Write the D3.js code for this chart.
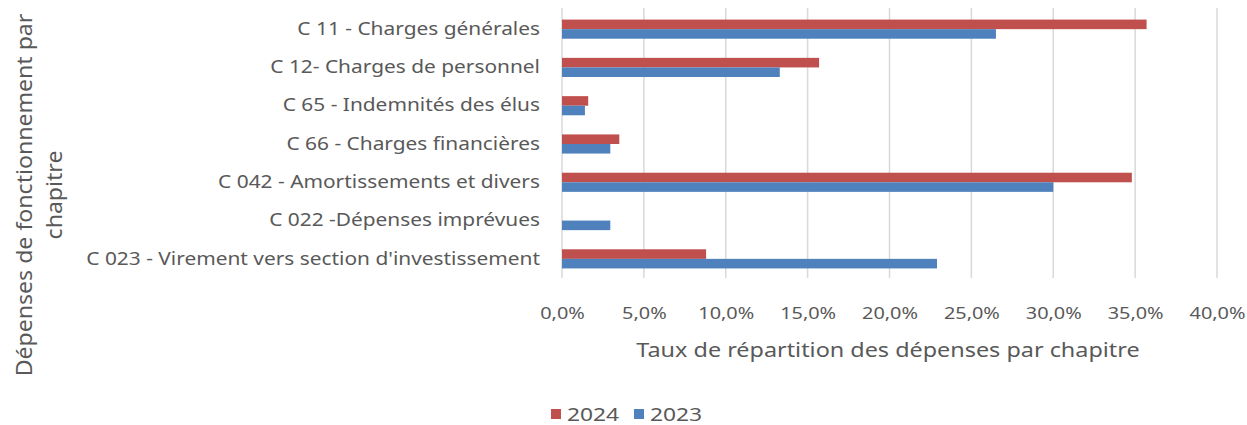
<!DOCTYPE html>
<html>
<head>
<meta charset="utf-8">
<script src="https://cdn.jsdelivr.net/npm/d3@7"></script>
<style>
  body { margin: 0; background: #fff; }
  text { font-family: "Noto Sans", sans-serif; fill: #595959; }
</style>
</head>
<body>
<div id="wrapper"></div>
<script>
const categories = [
    "C 11 - Charges générales",
    "C 12- Charges de personnel",
    "C 65 - Indemnités des élus",
    "C 66 - Charges financières",
    "C 042 - Amortissements et divers",
    "C 022 -Dépenses imprévues",
    "C 023 - Virement vers section d'investissement"
];
const series = ["2024", "2023"];
const values2024 = [35.7, 15.7, 1.6, 3.5, 34.8, 0, 8.8];
const values2023 = [26.5, 13.3, 1.4, 2.95, 30.0, 2.95, 22.9];
const xTicks = [0, 5, 10, 15, 20, 25, 30, 35, 40];
const colors = { "2024": "#C0504D", "2023": "#4F81BD" };

// étire horizontalement un texte (police plus large que Noto)
function stretch(sel, k) {
    sel.each(function () {
        const t = d3.select(this);
        const x = +t.attr("x") || 0;
        t.attr("x", 0).attr("transform", `translate(${x},0) scale(${k},1)`);
    });
}

function buildPlot() {
    const dimensions = {
        width: 1247,
        height: 425,
        margin: { top: 10, right: 30, bottom: 147, left: 562 },
    };
    dimensions.boundedWidth = 1217 - dimensions.margin.left;
    dimensions.boundedHeight = dimensions.height - dimensions.margin.top - dimensions.margin.bottom;

    const wrapper = d3.select("#wrapper")
        .append("svg")
        .attr("width", dimensions.width)
        .attr("height", dimensions.height);

    const bounds = wrapper.append("g")
        .attr("transform", `translate(${dimensions.margin.left},${dimensions.margin.top})`);

    const xScale = d3.scaleLinear()
        .domain([0, 40])
        .range([0, dimensions.boundedWidth]);

    const yScale = d3.scaleBand()
        .domain(categories)
        .range([0, dimensions.boundedHeight])
        .paddingInner(0.5)
        .paddingOuter(0.25);

    const subScale = d3.scaleBand()
        .domain(series)
        .range([0, yScale.bandwidth()]);

    // quadrillage vertical
    bounds.append("g")
        .selectAll("line")
        .data(xTicks)
        .join("line")
        .attr("x1", d => xScale(d))
        .attr("x2", d => xScale(d))
        .attr("y1", -2)
        .attr("y2", dimensions.boundedHeight)
        .attr("stroke", "#D9D9D9")
        .attr("stroke-width", 1.5);

    const rows = [];
    categories.forEach((c, i) => {
        rows.push({ cat: c, key: "2024", value: values2024[i] });
        rows.push({ cat: c, key: "2023", value: values2023[i] });
    });

    bounds.append("g")
        .selectAll("rect")
        .data(rows)
        .join("rect")
        .attr("x", xScale(0))
        .attr("y", d => yScale(d.cat) + subScale(d.key))
        .attr("width", d => xScale(d.value) - xScale(0))
        .attr("height", subScale.bandwidth())
        .attr("fill", d => colors[d.key]);

    // axe Y (catégories)
    const yAxis = bounds.append("g")
        .call(d3.axisLeft(yScale).tickSize(0).tickPadding(22));
    yAxis.select(".domain").remove();
    yAxis.selectAll("text")
        .style("font-size", "18px")
        .style("font-family", "'Noto Sans', sans-serif")
        .attr("fill", "#595959")
        .call(stretch, 1.16);

    // axe X
    const xAxis = bounds.append("g")
        .attr("transform", `translate(0,${dimensions.boundedHeight})`)
        .call(d3.axisBottom(xScale)
            .tickValues(xTicks)
            .tickSize(0)
            .tickPadding(29)
            .tickFormat(d => d3.format(".1f")(d).replace(".", ",") + "%"));
    xAxis.select(".domain").remove();
    xAxis.selectAll("text")
        .style("font-size", "17px")
        .style("font-family", "'Noto Sans', sans-serif")
        .attr("fill", "#595959")
        .call(stretch, 1.17);

    // titre de l'axe X
    wrapper.append("text")
        .attr("text-anchor", "middle")
        .attr("transform", "translate(888,357) scale(1.17,1)")
        .style("font-size", "20px")
        .text("Taux de répartition des dépenses par chapitre");

    // titre de l'axe Y
    const yTitle = wrapper.append("text")
        .attr("transform", "translate(0,195) rotate(-90) scale(1.1,1)")
        .attr("text-anchor", "middle")
        .style("font-size", "21px");
    yTitle.append("tspan").attr("x", 0).attr("y", 32).text("Dépenses de fonctionnement par");
    yTitle.append("tspan").attr("x", 0).attr("y", 62).text("chapitre");

    // légende
    const legend = wrapper.append("g").attr("transform", "translate(551,414)");
    series.forEach((s, i) => {
        const g = legend.append("g").attr("transform", `translate(${i * 83},0)`);
        g.append("rect")
            .attr("x", 0).attr("y", -5)
            .attr("width", 10).attr("height", 10)
            .attr("fill", colors[s]);
        g.append("text")
            .attr("transform", "translate(16,0) scale(1.2,1)")
            .attr("dy", "0.35em")
            .style("font-size", "19px")
            .text(s);
    });
}

buildPlot();
</script>
</body>
</html>
